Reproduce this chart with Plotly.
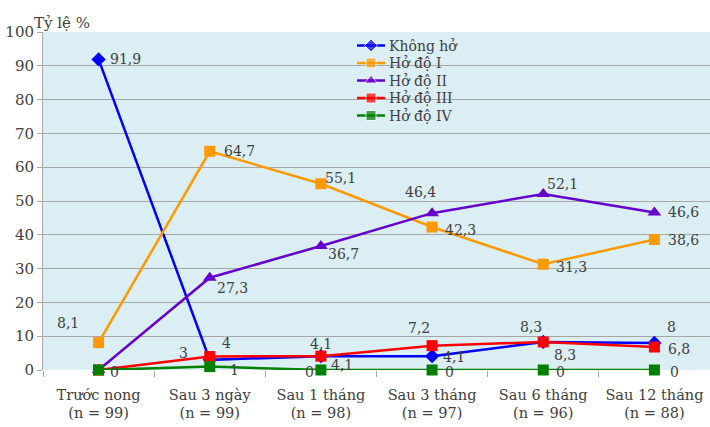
import plotly.graph_objects as go

# Categories (time points, with sample size)
categories = ["Trước nong<br>(n = 99)", "Sau 3 ngày<br>(n = 99)", "Sau 1 tháng<br>(n = 98)",
              "Sau 3 tháng<br>(n = 97)", "Sau 6 tháng<br>(n = 96)", "Sau 12 tháng<br>(n = 88)"]

khong_ho = [91.9, 3, 4.1, 4.1, 8.3, 8]
ho_do_1 = [8.1, 64.7, 55.1, 42.3, 31.3, 38.6]
ho_do_2 = [0, 27.3, 36.7, 46.4, 52.1, 46.6]
ho_do_3 = [0, 4, 4.1, 7.2, 8.3, 6.8]
ho_do_4 = [0, 1, 0, 0, 0, 0]

y_ticks = [0, 10, 20, 30, 40, 50, 60, 70, 80, 90, 100]

FONT = "DejaVu Serif"
TEXT = "#404040"

# name, values, colour, marker symbol, marker size, label offsets (px) per point (None = no label)
series = [
    ("Không hở", khong_ho, "#0000FF", "diamond", 11,
     [(27, 0), (-26, -7), (21, 9), (22, 1), (22, 13), (17, -16)]),
    ("Hở độ I", ho_do_1, "#FF9900", "square", 11,
     [(-31, -20), (30, 0), (20, -6), (28, 3), (28, 3), (29, 0)]),
    ("Hở độ II", ho_do_2, "#6600CC", "triangle-up", 12,
     [None, (23, 10), (23, 8), (-12, -21), (19, -10), (29, 0)]),
    ("Hở độ III", ho_do_3, "#FF0000", "square", 11,
     [None, (17, -13), (0, -12), (-13, -18), (-12, -15), (25, 2)]),
    ("Hở độ IV", ho_do_4, "#008000", "square", 11,
     [(16, 2), (25, 3), (-11, 2), (17, 2), (17, 2), (20, 2)]),
]

fig = go.Figure()
annotations = []
for name, vals, color, symbol, size, offsets in series:
    fig.add_trace(go.Scatter(
        x=categories, y=vals, name=name, mode="lines+markers",
        line=dict(color=color, width=2.5),
        marker=dict(symbol=symbol, size=size, color=color),
        cliponaxis=False, showlegend=False,
    ))
    for cat, v, off in zip(categories, vals, offsets):
        if off is None:
            continue
        annotations.append(dict(
            x=cat, y=v, xref="x", yref="y",
            text=(f"{v:g}").replace(".", ","),
            showarrow=False, xshift=off[0], yshift=-off[1],
            font=dict(family=FONT, size=14, color=TEXT),
        ))

# compact legend drawn on a pixel-scaled overlay axis (x: px from left, y: px from top)
LEG_X0, LEG_X1, LEG_TEXT_X = 357, 385, 387
LEG_Y0, LEG_DY = 45.5, 17.5
for i, (name, vals, color, symbol, size, _) in enumerate(series):
    ly = LEG_Y0 + i * LEG_DY
    fig.add_trace(go.Scatter(
        x=[LEG_X0, (LEG_X0 + LEG_X1) / 2, LEG_X1], y=[ly] * 3,
        xaxis="x2", yaxis="y2", mode="lines+markers",
        line=dict(color=color, width=2.5),
        marker=dict(symbol=symbol, size=[0, size - 1, 0], color=color),
        showlegend=False, hoverinfo="skip", cliponaxis=False,
    ))
    annotations.append(dict(
        x=LEG_TEXT_X, y=ly, xref="x2", yref="y2", text=name,
        xanchor="left", yanchor="middle", showarrow=False,
        font=dict(family=FONT, size=14, color=TEXT),
    ))

# axis title at the top-left corner
annotations.append(dict(
    text="Tỷ lệ %", xref="paper", yref="paper", x=-0.017, y=1,
    xanchor="left", yanchor="bottom", yshift=-2, showarrow=False,
    font=dict(family=FONT, size=15, color=TEXT),
))

fig.update_layout(
    width=710, height=427,
    margin=dict(l=43, r=0, t=32, b=57),
    paper_bgcolor="white",
    plot_bgcolor="#DAEEF3",
    font=dict(family=FONT, size=15, color=TEXT),
    showlegend=False,
    annotations=annotations,
    xaxis=dict(
        type="category", range=[-0.5, 5.5], showgrid=False, showline=False,
        ticks="outside", tickson="boundaries", ticklen=6, tickcolor="#A6A6A6",
        ticklabelstandoff=14, tickangle=0, automargin=False,
        tickfont=dict(family=FONT, size=14.5, color=TEXT), zeroline=False,
    ),
    yaxis=dict(
        range=[0, 100], tickvals=y_ticks, showgrid=True, gridcolor="#A6A6A6", gridwidth=1,
        showline=True, linecolor="#A6A6A6", linewidth=1, automargin=False,
        ticks="outside", ticklen=5, tickcolor="#A6A6A6",
        tickfont=dict(family=FONT, size=15, color=TEXT), zeroline=False,
    ),
    xaxis2=dict(overlaying="x", range=[43, 710], visible=False, fixedrange=True),
    yaxis2=dict(overlaying="y", range=[370, 32], visible=False, fixedrange=True),
)

fig.write_html("out.html")
